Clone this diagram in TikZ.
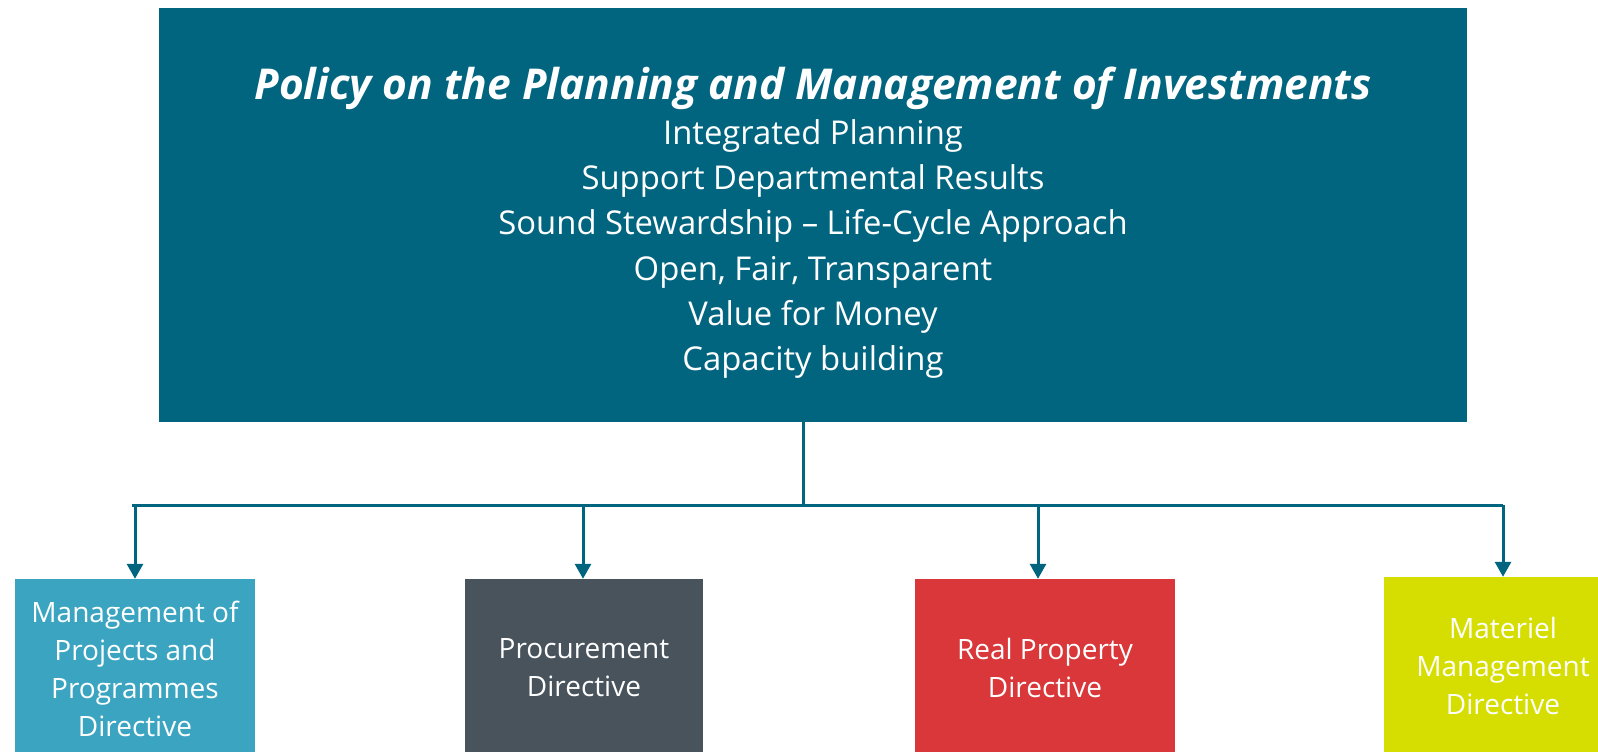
\documentclass[tikz,border=0pt]{standalone}
\usepackage{fontspec}
\setmainfont{Open Sans}
\usetikzlibrary{arrows.meta}
\definecolor{policyblue}{RGB}{2,101,128}
\definecolor{projblue}{RGB}{59,165,193}
\definecolor{procgrey}{RGB}{72,83,92}
\definecolor{propred}{RGB}{217,55,58}
\definecolor{matlime}{RGB}{213,222,0}
\tikzset{
  dirbox/.style={inner sep=0pt, minimum width=240pt, text=white, align=center,
    font=\fontsize{28}{38}\selectfont},
  link/.style={draw=policyblue, line width=3pt},
  feed/.style={link, -{Triangle[width=16pt,length=15pt]}},
}
\begin{document}
\begin{tikzpicture}[x=1pt,y=-1pt]
\useasboundingbox (0,0) rectangle (1598,752);
\clip (0,0) rectangle (1598,752);

% policy box
\node[fill=policyblue, inner sep=0pt, minimum width=1308pt, minimum height=414pt] (policy) at (813,215) {};
\node[text=white, inner sep=0pt, font=\fontsize{42.5}{50}\selectfont\bfseries\itshape] (title) at (813,88)
  {Policy on the Planning and Management of Investments};
\node[text=white, inner sep=0pt, align=center, font=\fontsize{32.8}{45.2}\selectfont] (aims) at (813,249)
  {Integrated Planning\\ Support Departmental Results\\ Sound Stewardship – Life-Cycle Approach\\
   Open, Fair, Transparent\\ Value for Money\\ Capacity building};

% directive boxes
\node[dirbox, fill=projblue, minimum height=180pt] (mpp) at (135,669)
  {Management of\\ Projects and\\ Programmes\\ Directive};
\node[dirbox, fill=procgrey, minimum width=238pt, minimum height=178pt] (proc) at (584,668)
  {Procurement\\ Directive};
\node[dirbox, fill=propred, minimum width=260pt, minimum height=178pt] (rp) at (1045,668)
  {Real Property\\ Directive};
\node[dirbox, fill=matlime, minimum width=238pt, minimum height=178pt] (mat) at (1503,666)
  {Materiel\\ Management\\ Directive};

% connectors
\coordinate (stem) at (803,505);
\coordinate (busL) at (132,505);
\coordinate (busR) at (1503,505);
\coordinate (tapP) at (583,505);
\coordinate (tapR) at (1038,505);
\draw[link] (policy.south -| stem) -- (stem);
\draw[link] (busL) -- (busR);
\draw[feed] (busL -| mpp.north) -- (mpp.north);
\draw[feed] (tapP) -- (tapP |- proc.north);
\draw[feed] (tapR) -- (tapR |- rp.north);
\draw[feed] (busR) -- (mat.north);
\end{tikzpicture}
\end{document}
